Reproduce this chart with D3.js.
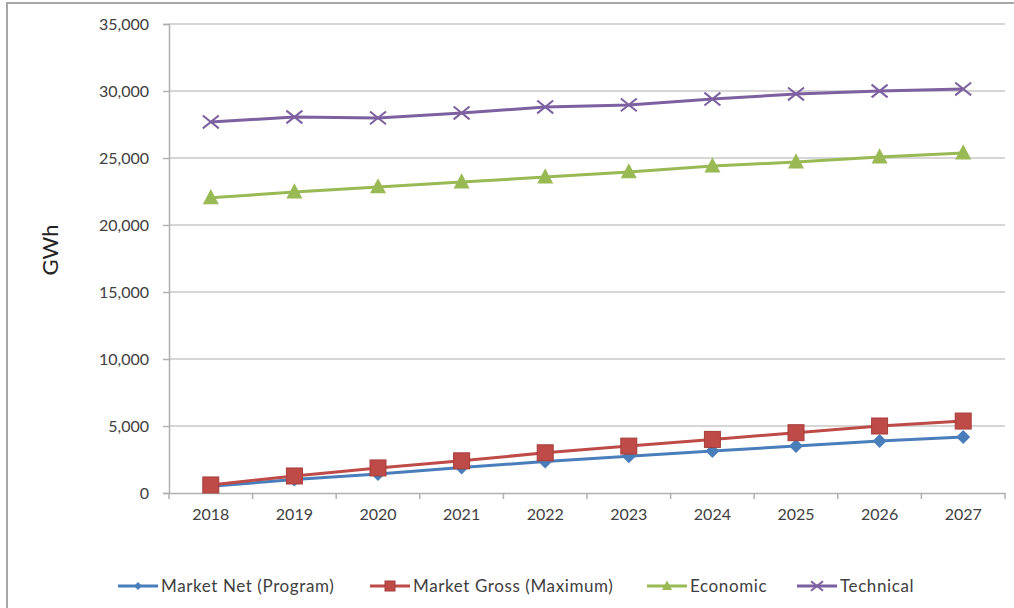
<!DOCTYPE html>
<html><head><meta charset="utf-8">
<script src="https://cdn.jsdelivr.net/npm/d3@7"></script>
<style>body{margin:0;background:#fff}svg{display:block}</style>
</head><body><svg id="c" width="1014" height="608"></svg>
<script>
const years = ["2018","2019","2020","2021","2022","2023","2024","2025","2026","2027"];
const marketNet = [500,1000,1420,1900,2350,2750,3130,3500,3880,4180];
const marketGross = [600,1270,1870,2400,3000,3500,4000,4500,5000,5370];
const economic = [22030,22460,22840,23200,23580,23960,24400,24700,25070,25370];
const technical = [27690,28060,27990,28360,28810,28960,29400,29780,30000,30150];
const yTicks = [0,5000,10000,15000,20000,25000,30000,35000];
const seriesNames = ["Market Net (Program)","Market Gross (Maximum)","Economic","Technical"];

const series = [
  {name:seriesNames[0], values:marketNet, color:"#4a7ebb", marker:"diamond"},
  {name:seriesNames[1], values:marketGross, color:"#be4b48", marker:"square"},
  {name:seriesNames[2], values:economic, color:"#98b954", marker:"triangle"},
  {name:seriesNames[3], values:technical, color:"#7d60a0", marker:"x"}
];

const svg = d3.select("#c");
const font = "Lato, 'Open Sans', sans-serif";
// outer frame
svg.append("path").attr("d","M7,608 V3 H1014").attr("fill","none").attr("stroke","#a6a6a6").attr("stroke-width",2);

const x = d3.scaleBand().domain(years).range([169,1005]);
const y = d3.scaleLinear().domain([0,35000]).range([493,24]);

// gridlines
svg.append("g").selectAll("line").data(yTicks.slice(1)).join("line")
  .attr("x1",169).attr("x2",1005).attr("y1",d=>y(d)).attr("y2",d=>y(d))
  .attr("stroke","#c8c8c8").attr("stroke-width",1.5);

// y axis
const ya = svg.append("g").attr("transform","translate(169,0)")
  .call(d3.axisLeft(y).tickValues(yTicks).tickFormat(d3.format(",")).tickSize(6).tickPadding(14));
ya.select(".domain").attr("stroke","#b0b0b0").attr("stroke-width",1.5);
ya.selectAll(".tick line").attr("stroke","#b0b0b0").attr("stroke-width",1.5);
ya.selectAll("text").attr("font-family",font).attr("font-size",16).attr("fill","#404040");

// x axis
const xa = svg.append("g").attr("transform","translate(0,493)")
  .call(d3.axisBottom(x).tickSize(0).tickPadding(16));
xa.select(".domain").attr("stroke","#b0b0b0").attr("stroke-width",1.5);
xa.selectAll("text").attr("font-family",font).attr("font-size",16).attr("fill","#404040");
xa.selectAll(".sep").data(years.map(v=>x(v)).concat([1005])).join("line").attr("class","sep")
  .attr("x1",d=>d).attr("x2",d=>d).attr("y1",0).attr("y2",6)
  .attr("stroke","#b0b0b0").attr("stroke-width",1.5);

// y title
svg.append("text").attr("transform","translate(58,250) rotate(-90)").attr("text-anchor","middle")
  .attr("font-family",font).attr("font-size",22).attr("fill","#222").text("GWh");

function marker(g, type, color, cx, cy, s){
  if(type==="diamond"){
    g.append("path").attr("d",`M${cx},${cy-s}L${cx+s},${cy}L${cx},${cy+s}L${cx-s},${cy}Z`).attr("fill",color);
  } else if(type==="square"){
    g.append("rect").attr("x",cx-s).attr("y",cy-s).attr("width",2*s).attr("height",2*s).attr("fill",color).attr("stroke","#a83d3a").attr("stroke-width",1);
  } else if(type==="triangle"){
    g.append("path").attr("d",`M${cx},${cy-s*1.1}L${cx+s},${cy+s*0.8}L${cx-s},${cy+s*0.8}Z`).attr("fill",color);
  } else {
    g.append("path").attr("d",`M${cx-s},${cy-s*0.8}L${cx+s},${cy+s*0.8}M${cx-s},${cy+s*0.8}L${cx+s},${cy-s*0.8}`).attr("stroke",color).attr("stroke-width",2);
  }
}

const cx = d=>x(d)+x.bandwidth()/2;
const line = d3.line().x((d,i)=>cx(years[i])).y(d=>y(d));
const sizes = {diamond:7,square:8,triangle:8,x:8};
series.forEach(s=>{
  const g = svg.append("g");
  g.append("path").attr("d",line(s.values)).attr("fill","none").attr("stroke",s.color).attr("stroke-width",3);
  s.values.forEach((v,i)=>marker(g,s.marker,s.color,cx(years[i]),y(v),sizes[s.marker]));
});

// legend
const legX = [118,370,647,797];
series.forEach((s,i)=>{
  const g = svg.append("g");
  const x0 = legX[i], yy = 586;
  g.append("line").attr("x1",x0).attr("x2",x0+40).attr("y1",yy).attr("y2",yy).attr("stroke",s.color).attr("stroke-width",3);
  marker(g,s.marker,s.color,x0+20,yy,s.marker==="diamond"?4:s.marker==="x"?6:5);
  g.append("text").attr("x",x0+43).attr("y",yy+6).attr("font-family",font).attr("font-size",17)
    .attr("letter-spacing",0.6).attr("fill","#404040").text(s.name);
});
</script></body></html>
